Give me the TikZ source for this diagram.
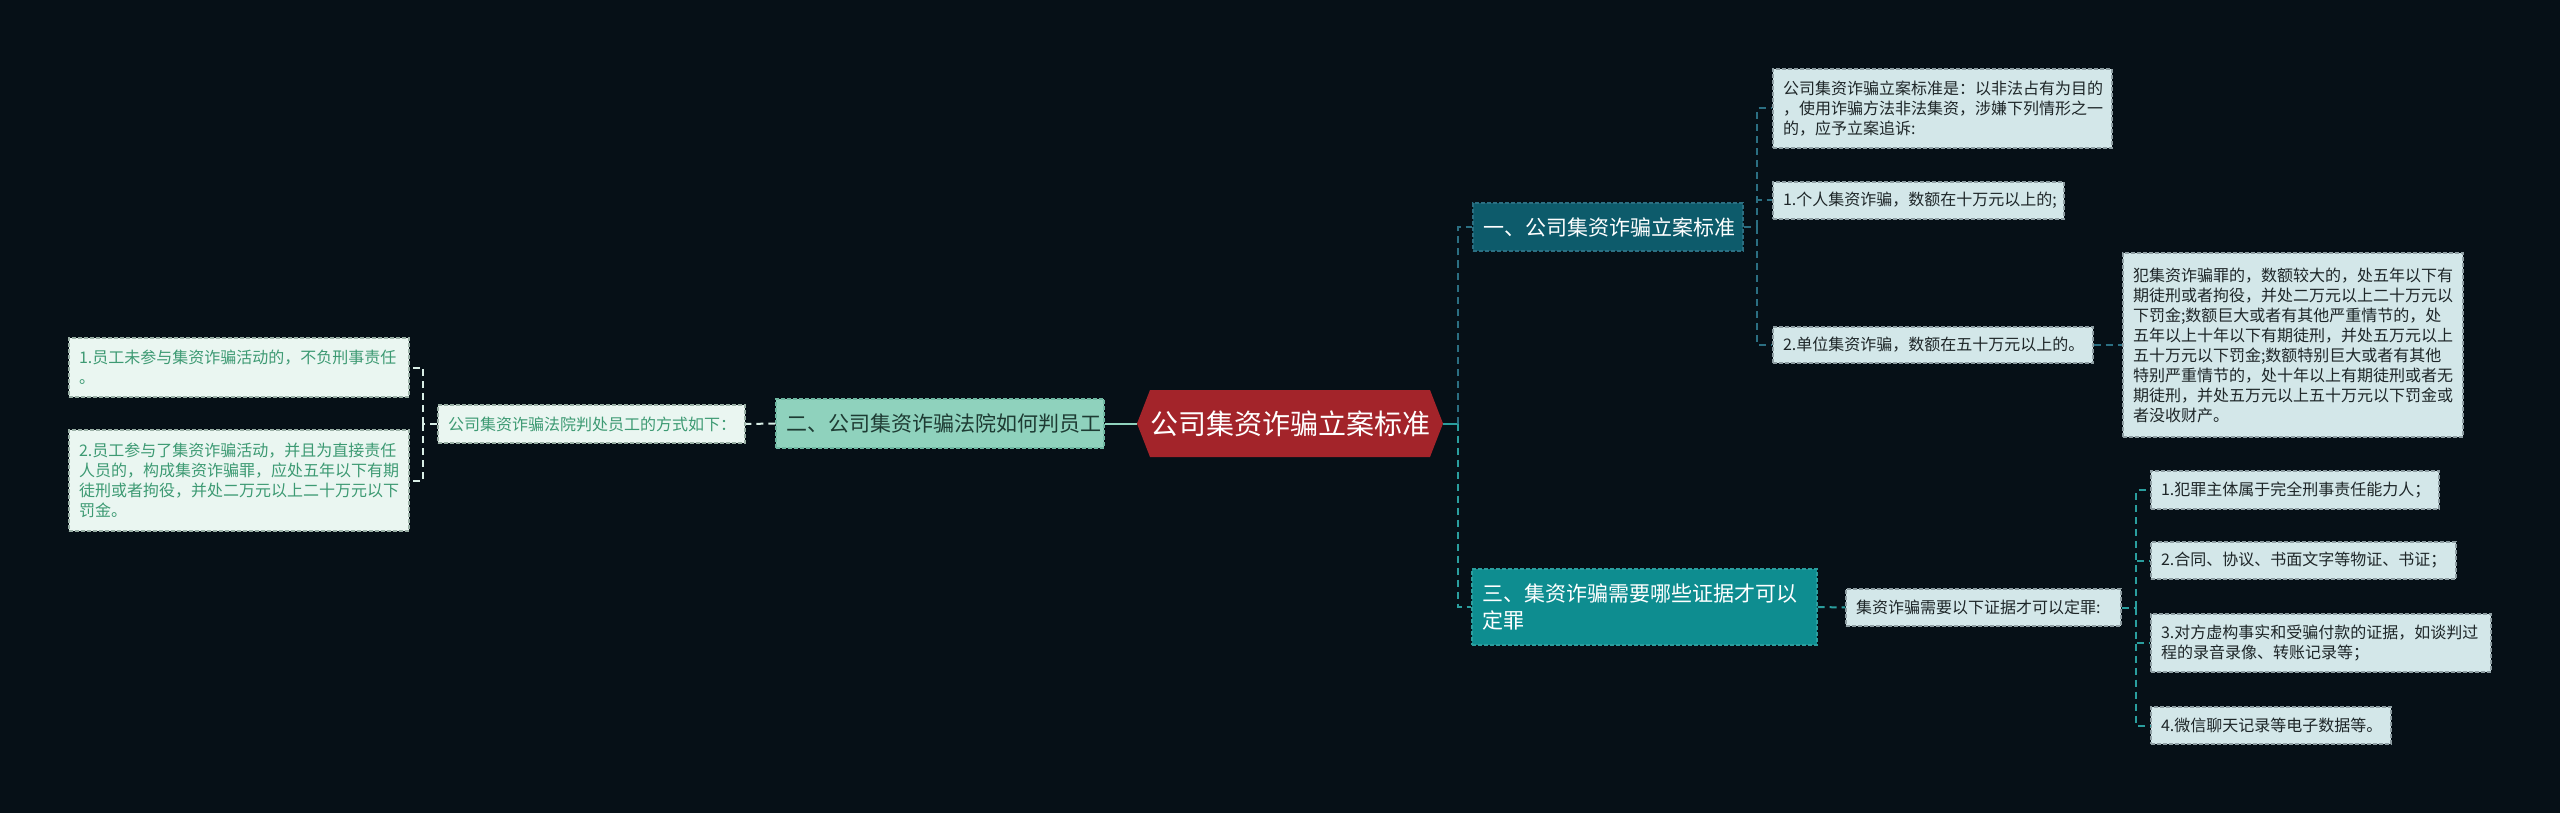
\documentclass[tikz,border=0pt]{standalone}
\usepackage{fontspec}
\setmainfont{Noto Sans CJK SC}
\definecolor{bg}{HTML}{061017}
\definecolor{rootfill}{HTML}{A3242A}
\definecolor{onefill}{HTML}{0D5B6B}
\definecolor{oneline}{HTML}{2B6F82}
\definecolor{threefill}{HTML}{0E8D90}
\definecolor{threeline}{HTML}{2A9E9E}
\definecolor{twofill}{HTML}{8FD2BD}
\definecolor{twotext}{HTML}{1E3B33}
\definecolor{twoborder}{HTML}{6FB8A2}
\definecolor{lightfill}{HTML}{D3E7E9}
\definecolor{lightborder}{HTML}{8E9EA3}
\definecolor{darktext}{HTML}{1E2628}
\definecolor{leftfill}{HTML}{EAF6F1}
\definecolor{leftborder}{HTML}{9AB0A6}
\definecolor{lefttext}{HTML}{3D9A73}
\definecolor{leftline}{HTML}{D8EEE6}
\newcommand\mybox[7]{%
  \pgfmathsetmacro\mbcx{(#2+#4)/2}%
  \pgfmathsetmacro\mbcy{(#3+#5)/2}%
  \pgfmathsetmacro\mbw{#4-#2}%
  \pgfmathsetmacro\mbh{#5-#3}%
  \pgfmathsetmacro\mbtw{#4-#2-20}%
  \node[#6, inner xsep=10pt, inner ysep=0pt, minimum width=\mbw pt, minimum height=\mbh pt, text width=\mbtw pt] (#1) at (\mbcx,\mbcy) {#7};%
}
\tikzset{
  x=1pt, y=-1pt,
  lightbox/.style={fill=lightfill, draw=lightborder, dash pattern=on 4pt off 2pt, line width=1.3pt, text=darktext, font=\fontsize{16}{20}\selectfont, align=left},
  leftbox/.style={fill=leftfill, draw=leftborder, dash pattern=on 4pt off 2pt, line width=1.3pt, text=lefttext, font=\fontsize{16}{20}\selectfont, align=left},
  onebox/.style={fill=onefill, draw=oneline, dash pattern=on 4pt off 2pt, line width=1.3pt, text=white, font=\fontsize{21}{27}\selectfont, align=left},
  threebox/.style={fill=threefill, draw=threeline, dash pattern=on 4pt off 2pt, line width=1.3pt, text=white, font=\fontsize{21}{27}\selectfont, align=left},
  twobox/.style={fill=twofill, draw=twoborder, dash pattern=on 4pt off 2pt, line width=1.3pt, text=twotext, font=\fontsize{21}{27}\selectfont, align=left},
  conn/.style={line width=2pt, dash pattern=on 7pt off 5pt},
}
\begin{document}
\begin{tikzpicture}
\fill[bg] (0,0) rectangle (2560,813);
\useasboundingbox (0,0) rectangle (2560,813);
% root hexagon
\fill[rootfill] (1137,423.5) -- (1150,390) -- (1430,390) -- (1443,423.5) -- (1430,457) -- (1150,457) -- cycle;
\node[minimum width=306pt, minimum height=67pt, inner sep=0pt, text=white, font=\fontsize{28}{34}\selectfont] (root) at (1290,423.5) {公司集资诈骗立案标准};
% main branches
\mybox{n1}{1473}{203}{1743}{251}{onebox}{一、公司集资诈骗立案标准}
\mybox{n3}{1472}{569}{1817}{645}{threebox}{三、集资诈骗需要哪些证据才可以\\定罪}
\mybox{n2}{776}{399}{1104}{448}{twobox}{二、公司集资诈骗法院如何判员工}
% right top
\mybox{t0}{1773}{69}{2112}{148}{lightbox}{公司集资诈骗立案标准是：以非法占有为目的\\，使用诈骗方法非法集资，涉嫌下列情形之一\\的，应予立案追诉:}
\mybox{t1}{1773}{182}{2064}{219}{lightbox}{1.个人集资诈骗，数额在十万元以上的;}
\mybox{t2}{1773}{327}{2093}{363}{lightbox}{2.单位集资诈骗，数额在五十万元以上的。}
\mybox{big}{2123}{253}{2463}{437}{lightbox}{犯集资诈骗罪的，数额较大的，处五年以下有\\期徒刑或者拘役，并处二万元以上二十万元以\\下罚金;数额巨大或者有其他严重情节的，处\\五年以上十年以下有期徒刑，并处五万元以上\\五十万元以下罚金;数额特别巨大或者有其他\\特别严重情节的，处十年以上有期徒刑或者无\\期徒刑，并处五万元以上五十万元以下罚金或\\者没收财产。}
% right bottom
\mybox{ev}{1846}{589}{2121}{626}{lightbox}{集资诈骗需要以下证据才可以定罪:}
\mybox{r1}{2151}{471}{2439}{509}{lightbox}{1.犯罪主体属于完全刑事责任能力人；}
\mybox{r2}{2151}{542}{2456}{579}{lightbox}{2.合同、协议、书面文字等物证、书证；}
\mybox{r3}{2151}{614}{2491}{672}{lightbox}{3.对方虚构事实和受骗付款的证据，如谈判过\\程的录音录像、转账记录等；}
\mybox{r4}{2151}{707}{2391}{744}{lightbox}{4.微信聊天记录等电子数据等。}
% left
\mybox{fa}{438}{405}{745}{443}{leftbox}{公司集资诈骗法院判处员工的方式如下：}
\mybox{l1}{69}{338}{409}{397}{leftbox}{1.员工未参与集资诈骗活动的，不负刑事责任\\。}
\mybox{l2}{69}{430}{409}{531}{leftbox}{2.员工参与了集资诈骗活动，并且为直接责任\\人员的，构成集资诈骗罪，应处五年以下有期\\徒刑或者拘役，并处二万元以上二十万元以下\\罚金。}
% junctions
\coordinate (j1) at (1458,423.5);
\coordinate (j2) at (1757,227);
\coordinate (j3) at (2136,607.5);
\coordinate (j4) at (423,424);
% connectors
\draw[line width=2pt, threeline] (root.east) -- (j1);
\draw[conn, oneline] (j1) |- (n1.west);
\draw[conn, threeline] (j1) |- (n3.west);
\draw[conn, oneline] (n1.east) -- (j2);
\draw[conn, oneline] (j2) |- (t0.west);
\draw[conn, oneline] (j2) |- (t1.west);
\draw[conn, oneline] (j2) |- (t2.west);
\draw[conn, oneline] (t2.east) -- (big.west);
\draw[conn, threeline] (n3.east) -- (ev.west);
\draw[conn, threeline] (ev.east) -- (j3);
\draw[conn, threeline] (j3) |- (r1.west);
\draw[conn, threeline] (j3) |- (r2.west);
\draw[conn, threeline] (j3) |- (r3.west);
\draw[conn, threeline] (j3) |- (r4.west);
\draw[line width=2pt, twofill] (n2.east) -- (root.west);
\draw[conn, leftline] (n2.west) -- (fa.east);
\draw[conn, leftline] (fa.west) -- (j4);
\draw[conn, leftline] (j4) |- (l1.east);
\draw[conn, leftline] (j4) |- (l2.east);
\end{tikzpicture}
\end{document}
